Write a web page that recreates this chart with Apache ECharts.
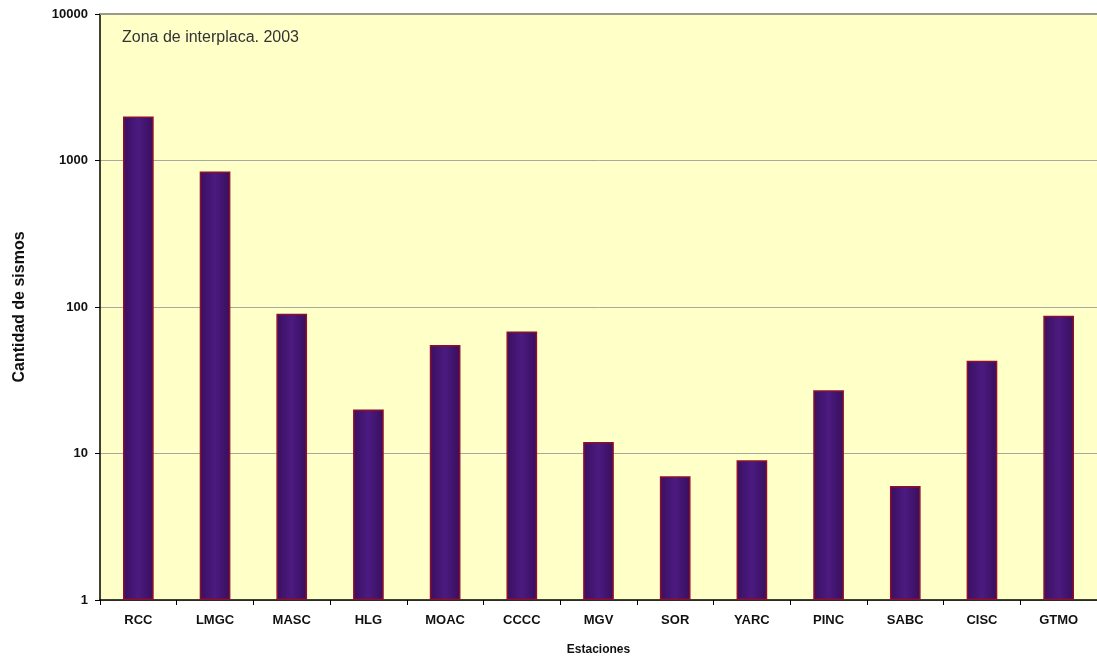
<!DOCTYPE html>
<html>
<head>
<meta charset="utf-8">
<script src="https://cdn.jsdelivr.net/npm/echarts@6/dist/echarts.min.js"></script>
<style>html,body{margin:0;padding:0;background:#fff;}#c{width:1097px;height:662px;}</style>
</head>
<body>
<div id="c"></div>
<script>
const categories = ['RCC','LMGC','MASC','HLG','MOAC','CCCC','MGV','SOR','YARC','PINC','SABC','CISC','GTMO'];
const counts = [2000, 840, 90, 20, 55, 68, 12, 7, 9, 27, 6, 43, 87];
const chartTitle = 'Zona de interplaca. 2003';
const xName = 'Estaciones';
const yName = 'Cantidad de sismos';

const chart = echarts.init(document.getElementById('c'));
chart.setOption({
  animation: false,
  backgroundColor: '#ffffff',
  title: {
    text: chartTitle, left: 117, top: 25,
    textStyle: {fontFamily: 'Liberation Sans', fontSize: 16, fontWeight: 'normal', color: '#333'}
  },
  grid: {left: 100, right: 0, top: 14, bottom: 62, show: true, backgroundColor: '#ffffc8', borderWidth: 0},
  xAxis: {
    type: 'category', data: categories,
    name: xName, nameLocation: 'middle', nameGap: 44,
    nameTextStyle: {fontFamily: 'Liberation Sans', fontSize: 12, fontWeight: 'bold', color: '#111'},
    axisLine: {show: true, lineStyle: {color: '#000', width: 1.5}},
    axisTick: {show: true, length: 5, lineStyle: {color: '#000'}},
    axisLabel: {fontFamily: 'Liberation Sans', fontSize: 13, fontWeight: 'bold', color: '#111', margin: 14},
    splitLine: {show: false}
  },
  yAxis: {
    type: 'log', logBase: 10, min: 1, max: 10000,
    name: yName, nameLocation: 'middle', nameGap: 72, nameRotate: 90,
    nameTextStyle: {fontFamily: 'Liberation Sans', fontSize: 16, fontWeight: 'bold', color: '#111'},
    axisLine: {show: true, lineStyle: {color: '#000', width: 1.5}},
    axisTick: {show: true, length: 5, lineStyle: {color: '#000'}},
    axisLabel: {fontFamily: 'Liberation Sans', fontSize: 13, fontWeight: 'bold', color: '#111', margin: 12,
      formatter: function (v) { return String(Math.round(v)); }},
    splitLine: {show: true, lineStyle: {color: '#a8a8a0', width: 1}},
    minorTick: {show: false}
  },
  series: [{
    type: 'bar', data: counts, barWidth: '40%',
    itemStyle: {
      color: {type: 'linear', x: 0, y: 0, x2: 1, y2: 0, colorStops: [
        {offset: 0, color: '#3a0f60'}, {offset: 0.5, color: '#4b1b80'}, {offset: 1, color: '#380e5c'}
      ]},
      borderColor: '#8e0f2c', borderWidth: 1.5
    }
  }],
  graphic: [{
    type: 'line', shape: {x1: 100, y1: 14, x2: 1097, y2: 14},
    style: {stroke: '#9a9a8a', lineWidth: 2}, z: 10
  }]
});
</script>
</body>
</html>
